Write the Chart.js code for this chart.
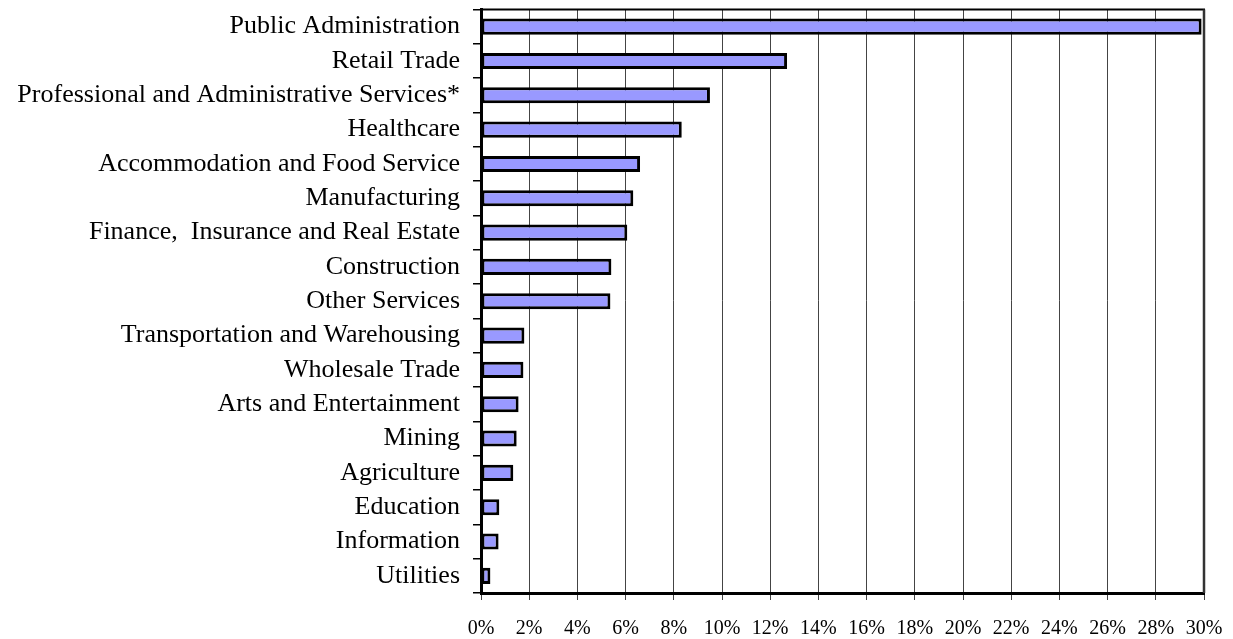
<!DOCTYPE html>
<html>
<head>
<meta charset="utf-8">
<title>Employment share by industry</title>
<script src="https://cdn.jsdelivr.net/npm/chart.js@4.4.1/dist/chart.umd.min.js"></script>
<style>
  html, body { margin: 0; padding: 0; background: #fff; }
  #wrap { width: 1233px; height: 639px; position: relative; }
</style>
</head>
<body>
<div id="wrap"><canvas id="chart"></canvas></div>
<script>
// industry categories, top to bottom
const INDUSTRIES = [
  'Public Administration',
  'Retail Trade',
  'Professional and Administrative Services*',
  'Healthcare',
  'Accommodation and Food Service',
  'Manufacturing',
  'Finance,  Insurance and Real Estate',
  'Construction',
  'Other Services',
  'Transportation and Warehousing',
  'Wholesale Trade',
  'Arts and Entertainment',
  'Mining',
  'Agriculture',
  'Education',
  'Information',
  'Utilities'
];

// share of employment, percent
const SHARES = [29.9, 12.7, 9.5, 8.33, 6.6, 6.32, 6.07, 5.41, 5.37, 1.8, 1.76, 1.56, 1.48, 1.34, 0.76, 0.73, 0.39];

// x axis range / tick step, percent
const X_MIN = 0;
const X_MAX = 30;
const X_STEP = 2;

const SERIF = '"Liberation Serif", "Times New Roman", serif';

// thin frame on the top and right of the plot area (left/bottom come from the axes)
const plotFrame = {
  id: 'plotFrame',
  afterDatasetsDraw(chart) {
    const { ctx, chartArea: a } = chart;
    ctx.save();
    ctx.lineWidth = 2;
    ctx.strokeStyle = '#000';
    ctx.beginPath();
    ctx.moveTo(a.left, a.top);
    ctx.lineTo(a.right + 1, a.top);
    ctx.stroke();
    ctx.strokeStyle = '#333';
    ctx.lineWidth = 2.5;
    ctx.beginPath();
    ctx.moveTo(a.right, a.top);
    ctx.lineTo(a.right, a.bottom);
    ctx.stroke();
    ctx.restore();
  }
};

// keep the axes from reserving room for overhanging labels
const noOverhang = s => {
  s.paddingTop = 0;
  s.paddingBottom = 0;
  s.paddingLeft = 0;
  s.paddingRight = 0;
};

new Chart(document.getElementById('chart'), {
  type: 'bar',
  data: {
    labels: INDUSTRIES,
    datasets: [{
      data: SHARES,
      backgroundColor: '#9999ff',
      borderColor: '#000',
      borderWidth: 3,
      borderSkipped: false,
      barPercentage: 0.47,
      categoryPercentage: 1.0
    }]
  },
  options: {
    indexAxis: 'y',
    responsive: true,
    maintainAspectRatio: false,
    devicePixelRatio: 1,
    animation: false,
    layout: { padding: { top: 9.5, right: 29, bottom: 0, left: 0 } },
    plugins: {
      legend: { display: false },
      tooltip: { enabled: false }
    },
    scales: {
      x: {
        min: X_MIN,
        max: X_MAX,
        ticks: {
          stepSize: X_STEP,
          color: '#000',
          padding: 17,
          maxRotation: 0,
          font: { family: SERIF, size: 20 },
          callback: v => v + '%'
        },
        grid: {
          color: '#444',
          lineWidth: 1,
          tickColor: '#444',
          tickLength: 7
        },
        border: { color: '#000', width: 3 },
        afterFit: s => { s.height = 46; noOverhang(s); }
      },
      y: {
        ticks: {
          color: '#000',
          padding: 13,
          autoSkip: false,
          font: { family: SERIF, size: 26 }
        },
        grid: {
          drawOnChartArea: false,
          tickColor: '#000',
          tickLength: 8,
          lineWidth: 1.5
        },
        border: { color: '#000', width: 3 },
        afterFit: s => { s.width = 481; noOverhang(s); }
      }
    }
  },
  plugins: [plotFrame]
});
</script>
</body>
</html>
